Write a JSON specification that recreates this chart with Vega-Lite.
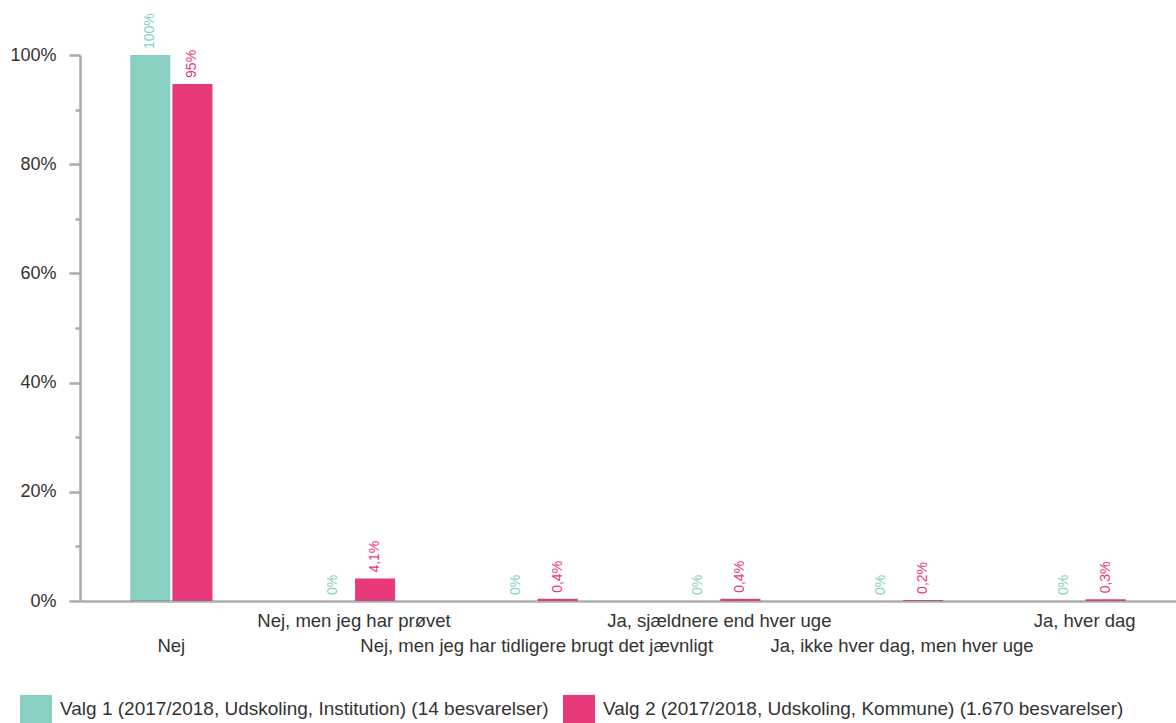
{
  "$schema": "https://vega.github.io/schema/vega-lite/v6.json",
  "width": 1096,
  "height": 546,
  "autosize": {"type": "none"},
  "padding": {"left": 80, "top": 55, "right": 0, "bottom": 122},
  "background": "white",
  "config": {"view": {"stroke": null}, "font": "Liberation Sans"},
  "data": {
    "values": [
      {"kategori": "Nej", "serie": "Valg 1 (2017/2018, Udskoling, Institution) (14 besvarelser)", "andel": 100, "etiket": "100%"},
      {"kategori": "Nej", "serie": "Valg 2 (2017/2018, Udskoling, Kommune) (1.670 besvarelser)", "andel": 94.7, "etiket": "95%"},
      {"kategori": "Nej, men jeg har prøvet", "serie": "Valg 1 (2017/2018, Udskoling, Institution) (14 besvarelser)", "andel": 0, "etiket": "0%"},
      {"kategori": "Nej, men jeg har prøvet", "serie": "Valg 2 (2017/2018, Udskoling, Kommune) (1.670 besvarelser)", "andel": 4.1, "etiket": "4,1%"},
      {"kategori": "Nej, men jeg har tidligere brugt det jævnligt", "serie": "Valg 1 (2017/2018, Udskoling, Institution) (14 besvarelser)", "andel": 0, "etiket": "0%"},
      {"kategori": "Nej, men jeg har tidligere brugt det jævnligt", "serie": "Valg 2 (2017/2018, Udskoling, Kommune) (1.670 besvarelser)", "andel": 0.4, "etiket": "0,4%"},
      {"kategori": "Ja, sjældnere end hver uge", "serie": "Valg 1 (2017/2018, Udskoling, Institution) (14 besvarelser)", "andel": 0, "etiket": "0%"},
      {"kategori": "Ja, sjældnere end hver uge", "serie": "Valg 2 (2017/2018, Udskoling, Kommune) (1.670 besvarelser)", "andel": 0.4, "etiket": "0,4%"},
      {"kategori": "Ja, ikke hver dag, men hver uge", "serie": "Valg 1 (2017/2018, Udskoling, Institution) (14 besvarelser)", "andel": 0, "etiket": "0%"},
      {"kategori": "Ja, ikke hver dag, men hver uge", "serie": "Valg 2 (2017/2018, Udskoling, Kommune) (1.670 besvarelser)", "andel": 0.2, "etiket": "0,2%"},
      {"kategori": "Ja, hver dag", "serie": "Valg 1 (2017/2018, Udskoling, Institution) (14 besvarelser)", "andel": 0, "etiket": "0%"},
      {"kategori": "Ja, hver dag", "serie": "Valg 2 (2017/2018, Udskoling, Kommune) (1.670 besvarelser)", "andel": 0.3, "etiket": "0,3%"}
    ]
  },
  "encoding": {
    "x": {
      "field": "kategori",
      "type": "nominal",
      "sort": null,
      "scale": {"paddingInner": 0.55, "paddingOuter": 0.275},
      "axis": {
        "title": null,
        "ticks": false,
        "labelAngle": 0,
        "labelFontSize": 18.5,
        "labelColor": "#333",
        "labelPadding": 10,
        "labelLineHeight": 25,
        "labelLimit": 0,
        "labelOverlap": false,
        "labelExpr": "indexof(['Nej', 'Nej, men jeg har tidligere brugt det jævnligt', 'Ja, ikke hver dag, men hver uge'], datum.value) >= 0 ? ['', datum.value] : datum.value",
        "domainColor": "#777",
        "domainOpacity": 0.6,
        "domainWidth": 2.5,
        "zindex": 1
      }
    },
    "xOffset": {"field": "serie", "type": "nominal", "sort": null, "scale": {"paddingInner": 0.05}},
    "y": {
      "field": "andel",
      "type": "quantitative",
      "scale": {"domain": [0, 100], "nice": false},
      "axis": {
        "title": null,
        "grid": false,
        "values": [0, 10, 20, 30, 40, 50, 60, 70, 80, 90, 100],
        "labelExpr": "datum.value % 20 === 0 ? datum.value + '%' : ''",
        "tickSize": {"condition": {"test": "datum.value % 20 === 0", "value": 11}, "value": 5},
        "tickColor": "#aaa",
        "tickWidth": 2.5,
        "domainColor": "#aaa",
        "domainWidth": 2.5,
        "labelFontSize": 18,
        "labelColor": "#333",
        "labelPadding": 13,
        "zindex": 1
      }
    },
    "color": {
      "field": "serie",
      "type": "nominal",
      "sort": null,
      "scale": {"range": ["#8AD0C2", "#E8397A"]},
      "legend": {
        "orient": "none",
        "legendX": -60,
        "legendY": 638,
        "direction": "horizontal",
        "title": null,
        "symbolType": "M-1,-0.9H1V0.9H-1Z",
        "symbolSize": 1024,
        "symbolStrokeWidth": 0,
        "labelFontSize": 19,
        "labelColor": "#333",
        "labelOffset": 8,
        "columnPadding": 14,
        "labelLimit": 0
      }
    }
  },
  "layer": [
    {"mark": {"type": "bar", "y2Offset": 1.5}},
    {
      "mark": {"type": "text", "angle": 270, "align": "left", "baseline": "middle", "dx": 6, "fontSize": 14},
      "encoding": {"text": {"field": "etiket"}}
    }
  ]
}
